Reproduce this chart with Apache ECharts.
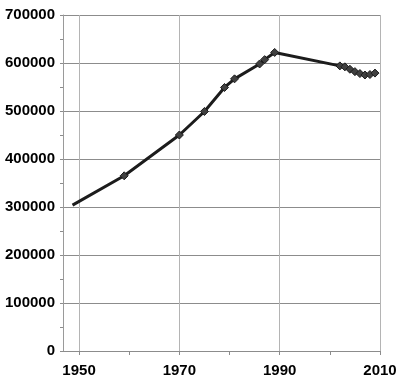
<!DOCTYPE html>
<html>
<head>
<meta charset="utf-8">
<script src="https://cdn.jsdelivr.net/npm/echarts@6/dist/echarts.min.js"></script>
<style>
html,body{margin:0;padding:0;background:#fff;}
#chart{width:396px;height:382px;}
</style>
</head>
<body>
<div id="chart"></div>
<script>
// Data
var years = [1948.7, 1959, 1970, 1975, 1979, 1981, 1986, 1987, 1989, 2002, 2003, 2004, 2005, 2006, 2007, 2008, 2009];
var population = [304000, 365000, 450000, 499000, 549000, 567000, 598000, 607000, 622000, 594000, 592000, 587000, 582000, 578000, 575000, 576000, 579000];
var xLabelYears = [1950, 1970, 1990, 2010];
var xTickYears = [1950, 1960, 1970, 1980, 1990, 2000, 2010];

var fontFamily = '"Liberation Sans Narrow", "Arial Narrow", "Liberation Sans", Arial, sans-serif';

var seriesData = years.map(function (y, i) {
  var item = { value: [y, population[i]] };
  if (i === 0) { item.symbol = 'none'; }
  return item;
});

var chart = echarts.init(document.getElementById('chart'), null, { renderer: 'canvas' });
chart.setOption({
  animation: false,
  backgroundColor: '#ffffff',
  grid: { left: 63, right: 16, top: 15, bottom: 31, containLabel: false, outerBoundsMode: 'none' },
  xAxis: {
    type: 'value',
    min: 1946.8,
    max: 2010,
    axisLine: { show: true, lineStyle: { color: '#8c8c8c', width: 1 } },
    axisTick: { show: true, length: 4, customValues: xTickYears, lineStyle: { color: '#8c8c8c' } },
    axisLabel: {
      customValues: xLabelYears,
      formatter: function (v) { return String(v); },
      color: '#000',
      fontFamily: fontFamily,
      fontWeight: 'bold',
      fontSize: 15,
      margin: 12
    },
    splitLine: { show: false }
  },
  yAxis: {
    type: 'value',
    min: 0,
    max: 700000,
    interval: 100000,
    axisLine: { show: true, lineStyle: { color: '#9a9a9a', width: 1 } },
    axisTick: { show: true, length: 3, lineStyle: { color: '#8c8c8c' } },
    minorTick: { show: true, splitNumber: 2, length: 3, lineStyle: { color: '#8c8c8c' } },
    axisLabel: {
      formatter: function (v) { return String(v); },
      color: '#000',
      fontFamily: fontFamily,
      fontWeight: 'bold',
      fontSize: 15,
      margin: 8,
      padding: [9, 0, 0, 0]
    },
    splitLine: { show: true, lineStyle: { color: '#8c8c8c', width: 1 } }
  },
  series: [{
    type: 'line',
    data: seriesData,
    symbol: 'diamond',
    symbolSize: 8,
    showAllSymbol: true,
    lineStyle: { color: '#1c1c1c', width: 3 },
    itemStyle: { color: '#404040', borderColor: '#1c1c1c', borderWidth: 1 },
    markLine: {
      silent: true,
      symbol: ['none', 'none'],
      label: { show: false },
      lineStyle: { color: '#b4b4b4', type: 'solid', width: 1 },
      data: xLabelYears.map(function (y) { return { xAxis: y }; }),
      z: 0
    },
    z: 5
  }]
});
</script>
</body>
</html>
